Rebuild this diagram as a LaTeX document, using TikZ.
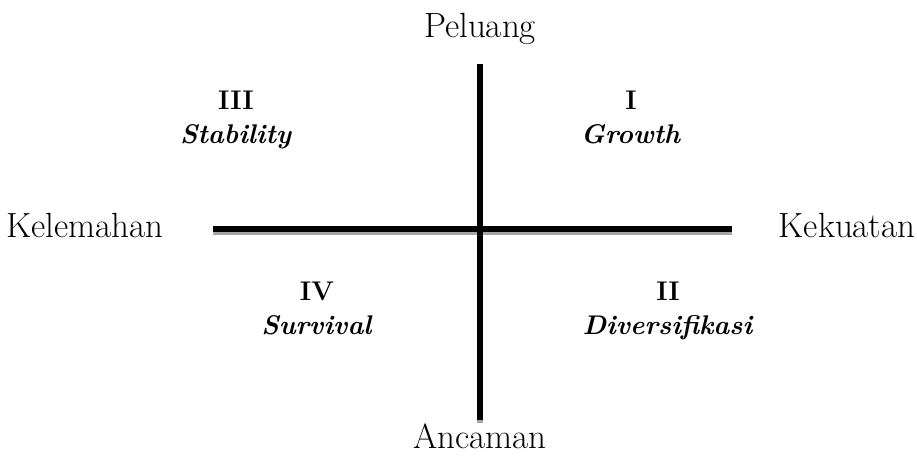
\documentclass[tikz,border=0pt]{standalone}
\usepackage{xcolor}
\usepackage{tikz}
\usetikzlibrary{positioning}
\definecolor{axink}{HTML}{000000}
\definecolor{axshade}{HTML}{A6A6A6}
\tikzset{
  axis/.style={line width=2.6pt,draw=axink},
  axshadow/.style={line width=2.6pt,draw=axshade},
  pole/.style={font=\fontsize{17.5}{20}\selectfont,text=axink},
  quad/.style={anchor=north,align=center,font=\fontsize{13.5}{17}\selectfont\bfseries,text=axink},
}
\begin{document}
\begin{tikzpicture}[x=0.5pt,y=-0.5pt]
  \useasboundingbox (0,0) rectangle (917,457);
  % axis ends
  \coordinate (west) at (213,229);
  \coordinate (east) at (732,229);
  \coordinate (north) at (480,64);
  \coordinate (south) at (480,420);
  % shadow first, then the axes
  \draw[axshadow] ([shift={(0,3)}]west) -- ([shift={(0,3)}]east);
  \draw[axshadow] ([shift={(0,3)}]north) -- ([shift={(0,3)}]south);
  \draw[axis] (west) -- (east);
  \draw[axis] (north) -- (south);
  % poles
  \node[pole] (peluang) at (480,29) {Peluang};
  \node[pole] (ancaman) at (480,436) {Ancaman};
  \node[pole] (kelemahan) at (85,225) {Kelemahan};
  \node[pole] (kekuatan) at (847,225) {Kekuatan};
  % quadrants
  \node[quad] (q3) at (236,84) {III\\\textit{Stability}};
  \node[quad] (q1) at (631,84) {I\\\textit{Growth}};
  \node[quad] (q4) at (317,275) {IV\\\textit{Survival}};
  \node[quad] (q2) at (668,275) {II\\\textit{Diversifikasi}};
\end{tikzpicture}
\end{document}
